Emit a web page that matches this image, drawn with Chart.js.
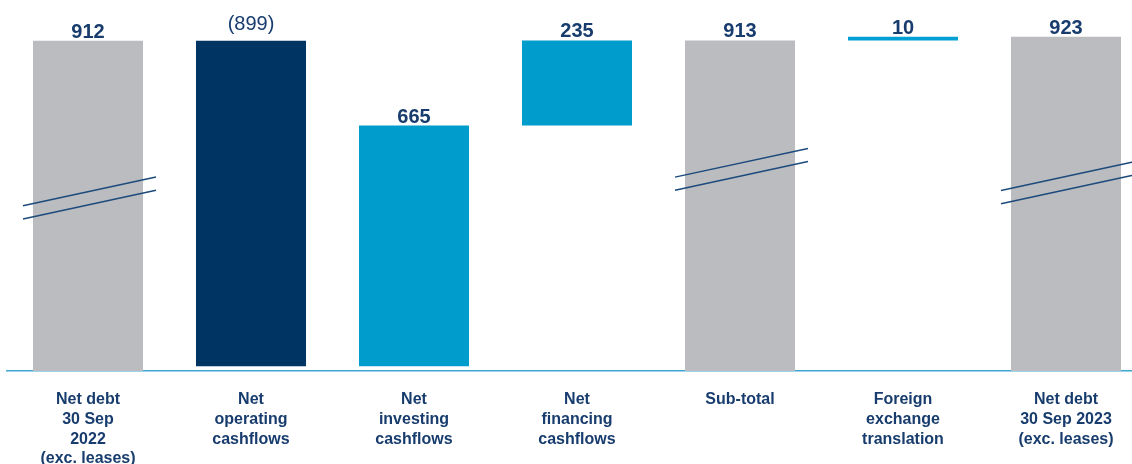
<!DOCTYPE html>
<html>
<head>
<meta charset="utf-8">
<script src="https://cdn.jsdelivr.net/npm/chart.js@4.4.1/dist/chart.umd.min.js"></script>
<style>
    html, body { margin: 0; padding: 0; background: #fff; overflow: hidden; }
    #wrap { position: relative; width: 1150px; height: 464px; }
</style>
</head>
<body>
<div id="wrap"><canvas id="waterfall"></canvas></div>
<script>
"use strict";

// categories (multi-line tick labels)
var categories = [
    ['Net debt', '30 Sep', '2022', '(exc. leases)'],
    ['Net', 'operating', 'cashflows'],
    ['Net', 'investing', 'cashflows'],
    ['Net', 'financing', 'cashflows'],
    ['Sub-total'],
    ['Foreign', 'exchange', 'translation'],
    ['Net debt', '30 Sep 2023', '(exc. leases)']
];
// movement in net debt (£m); totals flagged separately
var values = [912, -899, 665, 235, 913, 10, 923];
var isTotal = [true, false, false, false, true, false, true];
var barColors = ['#bbbcc0', '#003462', '#009ccc', '#009ccc', '#bbbcc0', '#00a0d4', '#bbbcc0'];
// axis-break marks drawn on the total bars (value where the mark sits)
var breakAt = [478, null, null, null, 557, null, 520];

var NAVY = '#173c6d';

// floating ranges for the waterfall
var ranges = [];
var running = 0;
for (var i = 0; i < values.length; i++) {
    if (isTotal[i]) {
        running = values[i];
        ranges.push([0, values[i]]);
    } else {
        ranges.push([running, running + values[i]]);
        running += values[i];
    }
}

var valueLabels = {
    id: 'valueLabels',
    afterDatasetsDraw: function(chart) {
        var ctx = chart.ctx;
        var meta = chart.getDatasetMeta(0);
        var y = chart.scales.y;
        ctx.save();
        ctx.textAlign = 'center';
        ctx.textBaseline = 'alphabetic';
        ctx.fillStyle = NAVY;
        meta.data.forEach(function(bar, i) {
            var top = y.getPixelForValue(Math.max(ranges[i][0], ranges[i][1]));
            var v = values[i];
            if (v < 0) {
                ctx.font = '20px "Liberation Sans", Arial, sans-serif';
                ctx.fillText('(' + Math.abs(v) + ')', bar.x, top - 11);
            } else {
                ctx.font = 'bold 20px "Liberation Sans", Arial, sans-serif';
                ctx.fillText(String(v), bar.x, top - 3);
            }
        });
        ctx.restore();
    }
};

var breakMarks = {
    id: 'breakMarks',
    afterDatasetsDraw: function(chart) {
        var ctx = chart.ctx;
        var meta = chart.getDatasetMeta(0);
        var y = chart.scales.y;
        ctx.save();
        ctx.strokeStyle = '#1d4a7c';
        ctx.lineWidth = 1.5;
        meta.data.forEach(function(bar, i) {
            if (breakAt[i] === null) return;
            var yc = y.getPixelForValue(breakAt[i]);
            var x0 = bar.x - bar.width / 2 - 10;
            var x1 = bar.x + bar.width / 2 + 13;
            var slope = -0.216;
            var cx = (x0 + x1) / 2;
            [-6.6, 6.6].forEach(function(off) {
                ctx.beginPath();
                ctx.moveTo(x0, yc + off - slope * (cx - x0));
                ctx.lineTo(x1, yc + off + slope * (x1 - cx));
                ctx.stroke();
            });
        });
        ctx.restore();
    }
};

new Chart(document.getElementById('waterfall').getContext('2d'), {
    type: 'bar',
    data: {
        labels: categories,
        datasets: [{
            data: ranges,
            backgroundColor: barColors,
            borderWidth: 0,
            barPercentage: 0.675,
            categoryPercentage: 1
        }]
    },
    options: {
        responsive: true,
        maintainAspectRatio: false,
        animation: false,
        layout: { padding: { top: 9, left: 6.5, right: 2.5, bottom: 0 } },
        plugins: {
            legend: { display: false },
            tooltip: { enabled: false }
        },
        scales: {
            x: {
                grid: { display: false, drawTicks: false },
                border: { display: true, color: '#3ea6cf', width: 1.5 },
                ticks: {
                    color: NAVY,
                    padding: 19,
                    maxRotation: 0,
                    autoSkip: false,
                    font: { family: '"Liberation Sans", Arial, sans-serif', size: 16, weight: 'bold', lineHeight: 1.23 }
                },
                afterFit: function(scale) { scale.height = 93; }
            },
            y: {
                display: false,
                min: 0,
                max: 1000
            }
        }
    },
    plugins: [valueLabels, breakMarks]
});
</script>
</body>
</html>
